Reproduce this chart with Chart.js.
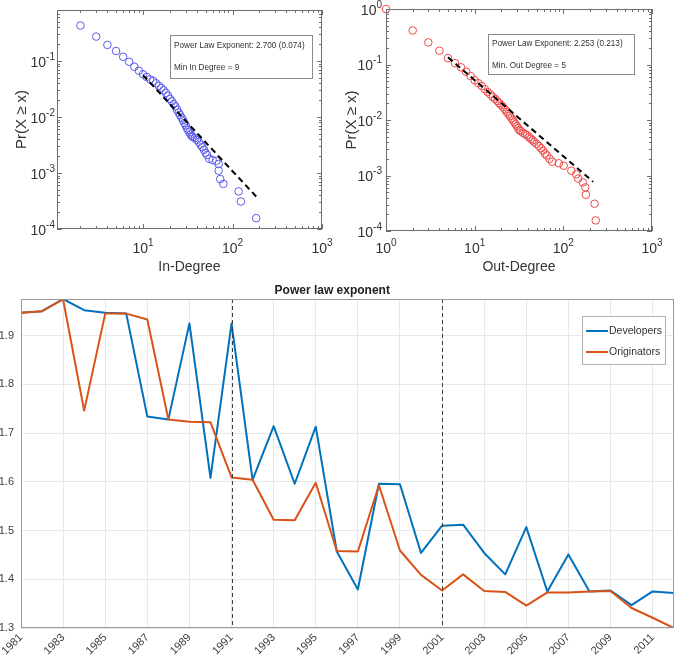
<!DOCTYPE html>
<html>
<head>
<meta charset="utf-8">
<script src="https://cdn.jsdelivr.net/npm/chart.js@4.4.1/dist/chart.umd.min.js"></script>
<style>
html, body { margin: 0; padding: 0; background: #fff; overflow: hidden; width: 685px; height: 661px; }
canvas { position: absolute; }
#inChart { left: 0; top: 0; }
#outChart { left: 340px; top: 0; }
#expChart { left: -20px; top: 280px; }
</style>
</head>
<body>
<canvas id="inChart" width="340" height="275"></canvas>
<canvas id="outChart" width="345" height="275"></canvas>
<canvas id="expChart" width="706" height="381"></canvas>
<script>
// In-degree CCDF
const inDegX = [2, 3, 4, 5, 6, 7, 8, 9, 10, 11, 12, 13, 14, 15, 16, 17, 18, 19, 20, 21, 22, 23, 24, 25, 26, 27, 28, 29, 30, 31, 32, 33, 34, 35, 36, 38, 40, 42, 44, 46, 48, 50, 52, 55, 60, 66, 70, 70, 73, 79, 117, 124, 184];
const inDegY = [0.43, 0.273, 0.194, 0.151, 0.119, 0.097, 0.079, 0.067, 0.058, 0.052, 0.047, 0.044, 0.040, 0.036, 0.033, 0.030, 0.027, 0.024, 0.021, 0.019, 0.017, 0.0155, 0.0135, 0.012, 0.0108, 0.0097, 0.0088, 0.0078, 0.0071, 0.0063, 0.0058, 0.0053, 0.0049, 0.0046, 0.0044, 0.0042, 0.0039, 0.0036, 0.0032, 0.0029, 0.0026, 0.0023, 0.0021, 0.0018, 0.0017, 0.00165, 0.00145, 0.0011, 0.00078, 0.00064, 0.00047, 0.00031, 0.000156];
const inFitX = [10, 184];
const inFitY = [0.056, 0.00038];
const inNote = ["Power Law Exponent: 2.700 (0.074)", "Min In Degree = 9"];

// Out-degree CCDF
const outDegX = [1, 2, 3, 4, 5, 6, 7, 8, 9, 10, 11, 12, 13, 14, 15, 16, 17, 18, 19, 20, 21, 22, 23, 24, 25, 26, 27, 28, 29, 30, 31, 32, 33, 35, 37, 39, 41, 43, 45, 47, 50, 53, 56, 59, 62, 65, 70, 75, 89, 101, 123, 140, 147, 166, 177, 180, 225, 232];
const outDegY = [1.0, 0.41, 0.25, 0.177, 0.13, 0.106, 0.089, 0.074, 0.062, 0.052, 0.046, 0.041, 0.036, 0.032, 0.029, 0.026, 0.024, 0.022, 0.020, 0.0185, 0.017, 0.0155, 0.014, 0.0128, 0.0118, 0.0108, 0.0099, 0.0091, 0.0084, 0.0077, 0.0071, 0.0066, 0.0063, 0.0059, 0.0056, 0.0053, 0.0049, 0.0046, 0.0043, 0.0040, 0.0037, 0.0034, 0.0031, 0.0028, 0.0025, 0.0023, 0.0020, 0.00177, 0.00166, 0.0015, 0.00122, 0.00105, 0.00088, 0.00075, 0.00061, 0.00045, 0.00031, 0.000155];
const outFitX = [5, 217];
const outFitY = [0.135, 0.00077];
const outNote = ["Power Law Exponent: 2.253 (0.213)", "Min. Out Degree = 5"];

// Power law exponent per year
const years = [1981, 1982, 1983, 1984, 1985, 1986, 1987, 1988, 1989, 1990, 1991, 1992, 1993, 1994, 1995, 1996, 1997, 1998, 1999, 2000, 2001, 2002, 2003, 2004, 2005, 2006, 2007, 2008, 2009, 2010, 2011, 2012];
const developers = [1.947, 1.950, 1.975, 1.952, 1.947, 1.945, 1.734, 1.728, 1.925, 1.608, 1.925, 1.604, 1.714, 1.596, 1.713, 1.457, 1.379, 1.596, 1.595, 1.454, 1.510, 1.512, 1.454, 1.410, 1.507, 1.375, 1.451, 1.375, 1.377, 1.347, 1.375, 1.372];
const originators = [1.947, 1.950, 1.974, 1.746, 1.945, 1.945, 1.933, 1.728, 1.723, 1.722, 1.609, 1.604, 1.522, 1.521, 1.598, 1.458, 1.457, 1.593, 1.459, 1.409, 1.377, 1.410, 1.376, 1.374, 1.346, 1.373, 1.373, 1.375, 1.376, 1.341, 1.321, 1.300];
const markerYears = [1991, 2001];

Chart.defaults.font.family = "Arial, 'Liberation Sans', Helvetica, sans-serif";
Chart.defaults.color = "#333";

const decades = (min, max) => [1e-4, 1e-3, 1e-2, 1e-1, 1, 10, 100, 1000].filter(v => v >= min * 0.999 && v <= max * 1.001);

// box round the plot area, with inward log ticks for the degree plots
const framePlugin = {
    id: "frame",
    afterDraw(chart, args, opts) {
        const { ctx, chartArea: a, scales } = chart;
        ctx.save();
        ctx.strokeStyle = opts.color || "#777";
        ctx.lineWidth = 1;
        ctx.strokeRect(Math.round(a.left) + 0.5, Math.round(a.top) + 0.5, Math.round(a.width) - 1, Math.round(a.height) - 1);
        if (opts.logTicks) {
            ctx.beginPath();
            ["x", "y"].forEach(id => {
                const s = scales[id];
                const lo = Math.floor(Math.log10(s.min)), hi = Math.ceil(Math.log10(s.max));
                for (let d = lo; d <= hi; d++) {
                    for (let k = 1; k <= 9; k++) {
                        const v = k * Math.pow(10, d);
                        if (v < s.min || v > s.max) continue;
                        const p = Math.round(s.getPixelForValue(v)) + 0.5;
                        const len = k === 1 ? 5 : 3;
                        if (id === "x") {
                            ctx.moveTo(p, a.bottom); ctx.lineTo(p, a.bottom - len);
                            ctx.moveTo(p, a.top); ctx.lineTo(p, a.top + len);
                        } else {
                            ctx.moveTo(a.left, p); ctx.lineTo(a.left + len, p);
                            ctx.moveTo(a.right, p); ctx.lineTo(a.right - len, p);
                        }
                    }
                }
            });
            ctx.stroke();
        }
        ctx.restore();
    }
};

// 10^n tick labels with a raised exponent, placed from the scales' own ticks
const powTickPlugin = {
    id: "powTicks",
    afterDraw(chart, args, opts) {
        const { ctx, chartArea: a, scales } = chart;
        const base = "14px Arial, 'Liberation Sans', sans-serif";
        const small = "10px Arial, 'Liberation Sans', sans-serif";
        ctx.save();
        ctx.fillStyle = "#333";
        ctx.textBaseline = "middle";
        ctx.textAlign = "left";
        const label = (v, x, y, align) => {
            const e = String(Math.round(Math.log10(v)));
            ctx.font = base;
            const wb = ctx.measureText("10").width;
            ctx.font = small;
            const we = ctx.measureText(e).width;
            const x0 = align === "center" ? x - (wb + we) / 2 : x - wb - we;
            ctx.font = base;
            ctx.fillText("10", x0, y);
            ctx.font = small;
            ctx.fillText(e, x0 + wb, y - 6);
        };
        scales.x.ticks.forEach(t => label(t.value, scales.x.getPixelForValue(t.value), opts.xLabelY, "center"));
        scales.y.ticks.forEach(t => label(t.value, a.left - opts.yPad, scales.y.getPixelForValue(t.value) + 2, "right"));
        ctx.restore();
    }
};

// boxed annotation text
const notePlugin = {
    id: "note",
    afterDraw(chart, args, opts) {
        if (!opts.lines) return;
        const { ctx } = chart;
        const [x1, y1, x2, y2] = opts.box;
        ctx.save();
        ctx.fillStyle = "#fff";
        ctx.fillRect(x1, y1, x2 - x1, y2 - y1);
        ctx.strokeStyle = "#8a8a8a";
        ctx.lineWidth = 1;
        ctx.strokeRect(x1 + 0.5, y1 + 0.5, x2 - x1, y2 - y1);
        ctx.fillStyle = "#333";
        ctx.font = "8.2px Arial, 'Liberation Sans', sans-serif";
        ctx.textBaseline = "middle";
        opts.lines.forEach((t, i) => ctx.fillText(t, x1 + 4, opts.rows[i]));
        ctx.restore();
    }
};

function degreeChart(id, xs, ys, fitX, fitY, color, o) {
    return new Chart(document.getElementById(id), {
        type: "scatter",
        data: {
            datasets: [{
                data: fitX.map((x, i) => ({ x, y: fitY[i] })),
                showLine: true,
                borderColor: "#000",
                borderWidth: 2,
                borderDash: [6, 4],
                pointRadius: 0
            }, {
                data: xs.map((x, i) => ({ x, y: ys[i] })),
                pointStyle: "circle",
                pointRadius: 3.8,
                borderWidth: 1,
                borderColor: color,
                backgroundColor: "rgba(0,0,0,0)",
                clip: false
            }]
        },
        options: {
            responsive: false,
            animation: false,
            layout: { padding: { top: o.top, right: o.right, left: 0, bottom: 0 } },
            plugins: {
                legend: { display: false },
                tooltip: { enabled: false },
                frame: { color: "#6e6e6e", logTicks: true },
                powTicks: { xLabelY: 249, yPad: o.yPad },
                note: { lines: o.note, box: o.box, rows: o.rows }
            },
            scales: {
                x: {
                    type: "logarithmic",
                    min: o.xMin, max: 1000,
                    afterBuildTicks: s => { s.ticks = decades(s.min, s.max).map(v => ({ value: v })); },
                    afterFit: s => { s.height = o.xAxisH; },
                    grid: { display: false },
                    border: { display: false },
                    ticks: { display: false },
                    title: { display: true, text: o.xTitle, font: { size: 14 }, color: "#333", padding: { top: 0, bottom: -1 } }
                },
                y: {
                    type: "logarithmic",
                    min: 1e-4, max: o.yMax,
                    afterBuildTicks: s => { s.ticks = decades(s.min, s.max).map(v => ({ value: v })); },
                    afterFit: s => { s.width = o.yAxisW; },
                    grid: { display: false },
                    border: { display: false },
                    ticks: { display: false },
                    title: { display: true, text: "Pr(X ≥ x)", font: { size: 15 }, color: "#333", padding: { top: o.yTitlePad, bottom: 0 } }
                }
            }
        },
        plugins: [framePlugin, powTickPlugin, notePlugin]
    });
}

// In-Degree
degreeChart("inChart", inDegX, inDegY, inFitX, inFitY, "#5a5aec", {
    top: 10, right: 18, xAxisH: 46, yAxisW: 57, yPad: 2, yTitlePad: 13,
    xMin: 1.094, yMax: 0.815, xTitle: "In-Degree",
    note: inNote, box: [170, 35, 312, 78], rows: [46, 68]
});

// Out-Degree
degreeChart("outChart", outDegX, outDegY, outFitX, outFitY, "#f04848", {
    top: 9, right: 33, xAxisH: 44, yAxisW: 46, yPad: 4, yTitlePad: 3,
    xMin: 1, yMax: 1, xTitle: "Out-Degree",
    note: outNote, box: [148, 34, 294, 74], rows: [44, 66]
});

// dashed year markers and boxed legend for the exponent chart
const markerPlugin = {
    id: "markers",
    afterDatasetsDraw(chart, args, opts) {
        const { ctx, chartArea: a, scales } = chart;
        ctx.save();
        ctx.strokeStyle = "#3c3c3c";
        ctx.lineWidth = 1;
        ctx.setLineDash([4, 3]);
        opts.years.forEach(y => {
            const px = Math.round(scales.x.getPixelForValue(years.indexOf(y))) + 0.5;
            ctx.beginPath();
            ctx.moveTo(px, a.top);
            ctx.lineTo(px, a.bottom);
            ctx.stroke();
        });
        ctx.restore();
    }
};

const legendPlugin = {
    id: "boxLegend",
    afterDraw(chart, args, opts) {
        const { ctx } = chart;
        const [x1, y1, x2, y2] = opts.box;
        ctx.save();
        ctx.fillStyle = "#fff";
        ctx.fillRect(x1, y1, x2 - x1, y2 - y1);
        ctx.strokeStyle = "#b0b0b0";
        ctx.lineWidth = 1;
        ctx.strokeRect(x1 + 0.5, y1 + 0.5, x2 - x1, y2 - y1);
        ctx.font = "10.5px Arial, 'Liberation Sans', sans-serif";
        ctx.textBaseline = "middle";
        chart.data.datasets.forEach((ds, i) => {
            const y = opts.rows[i];
            ctx.strokeStyle = ds.borderColor;
            ctx.lineWidth = 2;
            ctx.beginPath();
            ctx.moveTo(x1 + 4, y);
            ctx.lineTo(x1 + 26, y);
            ctx.stroke();
            ctx.fillStyle = "#333";
            ctx.fillText(ds.label, x1 + 27, y + 0.5);
        });
        ctx.restore();
    }
};

new Chart(document.getElementById("expChart"), {
    type: "line",
    data: {
        labels: years,
        datasets: [{
            label: "Developers",
            data: developers,
            borderColor: "#0072bd",
            borderWidth: 2,
            pointRadius: 0,
            borderJoinStyle: "round",
            order: 1
        }, {
            label: "Originators",
            data: originators,
            borderColor: "#d95319",
            borderWidth: 2,
            pointRadius: 0,
            borderJoinStyle: "round",
            order: 0
        }]
    },
    options: {
        responsive: false,
        animation: false,
        layout: { padding: { top: 0, right: 1.5, left: 0, bottom: 0 } },
        plugins: {
            legend: { display: false },
            tooltip: { enabled: false },
            title: { display: true, text: "Power law exponent", font: { size: 12, weight: "bold" }, color: "#222", padding: { top: 3, bottom: 1.6 } },
            frame: { color: "#9a9a9a" },
            markers: { years: markerYears },
            boxLegend: { box: [602, 36, 685, 84], rows: [51, 72] }
        },
        scales: {
            x: {
                offset: false,
                afterFit: s => { s.height = 33; },
                grid: { color: c => c.index % 2 === 0 ? "#e8e8e8" : "rgba(0,0,0,0)", drawTicks: false },
                border: { display: false },
                ticks: {
                    autoSkip: false, maxRotation: 45, minRotation: 45, padding: 3,
                    font: { size: 11 }, color: "#404040",
                    callback: (v, i) => i % 2 === 0 ? String(years[i]) : ""
                }
            },
            y: {
                min: 1.3, max: 1.975,
                afterFit: s => { s.width = 41; },
                grid: { color: "#e8e8e8", drawTicks: false },
                border: { display: false },
                ticks: { stepSize: 0.1, includeBounds: false, padding: 7, font: { size: 11 }, color: "#404040", callback: v => v.toFixed(1) }
            }
        }
    },
    plugins: [markerPlugin, framePlugin, legendPlugin]
});
</script>
</body>
</html>
